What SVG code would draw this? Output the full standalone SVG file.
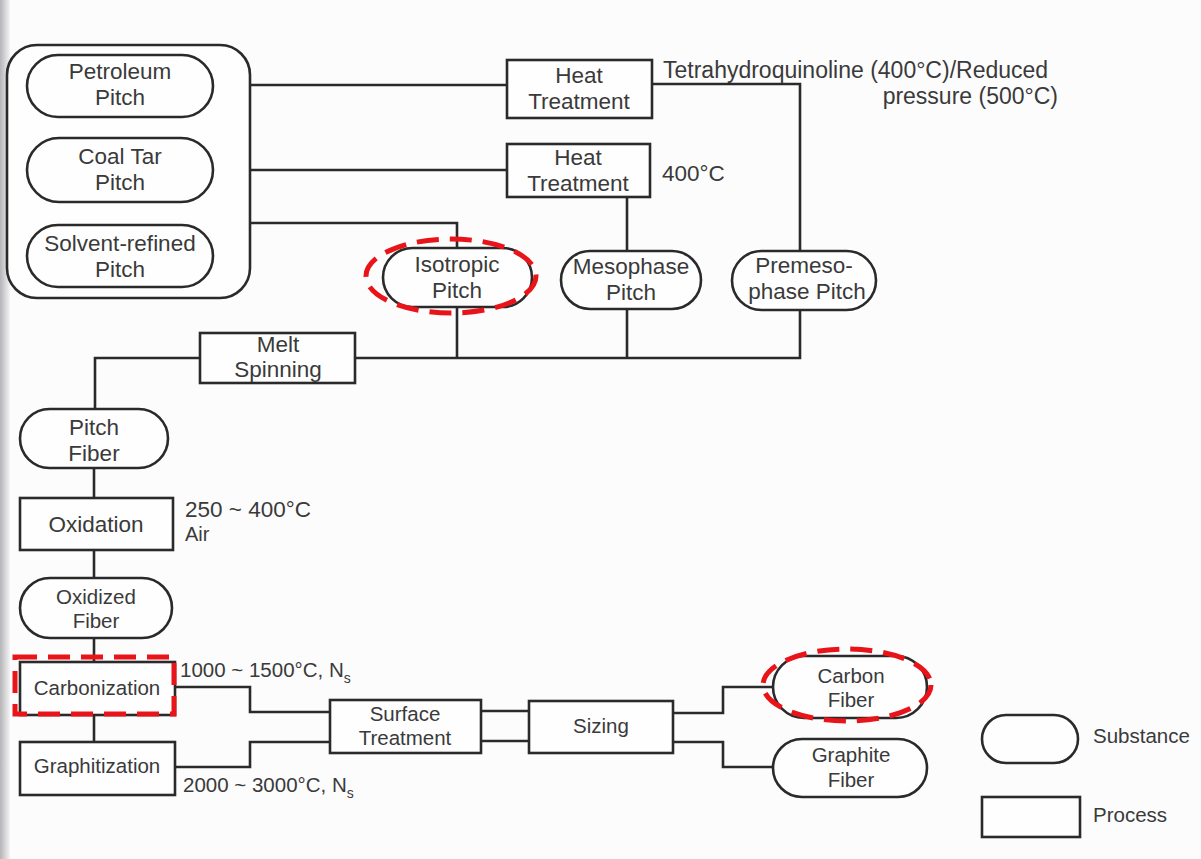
<svg xmlns="http://www.w3.org/2000/svg" width="1201" height="859" viewBox="0 0 1201 859">
<defs>
<linearGradient id="bind" x1="0" y1="0" x2="1" y2="0">
<stop offset="0" stop-color="#b5b5b8"/>
<stop offset="1" stop-color="#f4f4f6"/>
</linearGradient>
<style>
.n{fill:#fefefe;stroke:#2a2a2a;stroke-width:2.6}
.c{fill:none;stroke:#2a2a2a;stroke-width:2.6;stroke-linejoin:miter}
.t{font-family:"Liberation Sans",Arial,sans-serif;fill:#3a3a3a;text-anchor:middle}
.L{font-size:22.5px}
.S{font-size:20.5px}
.a{font-family:"Liberation Sans",Arial,sans-serif;fill:#3a3a3a}
.r{fill:none;stroke:#e8141a;stroke-width:5;stroke-dasharray:22 11}
</style>
</defs>
<rect x="0" y="0" width="1201" height="859" fill="#fcfcfc"/>
<rect x="0" y="0" width="10" height="859" fill="url(#bind)"/>

<g id="connectors">
<polyline class="c" points="250,85 507,85"/>
<polyline class="c" points="250,170 507,170"/>
<polyline class="c" points="250,223 457,223 457,248"/>
<polyline class="c" points="652,84 800,84 800,251"/>
<polyline class="c" points="627,197 627,251"/>
<polyline class="c" points="457,307 457,358"/>
<polyline class="c" points="627,309 627,358"/>
<polyline class="c" points="800,310 800,358 355,358"/>
<polyline class="c" points="200,358 95,358 95,409"/>
<polyline class="c" points="94,468 94,498"/>
<polyline class="c" points="94,550 94,578"/>
<polyline class="c" points="94,638 94,662"/>
<polyline class="c" points="94,715 94,742"/>
<polyline class="c" points="175,687 250,687 250,712 330,712"/>
<polyline class="c" points="175,767 250,767 250,742 330,742"/>
<polyline class="c" points="481,711 529,711"/>
<polyline class="c" points="481,741 529,741"/>
<polyline class="c" points="673,713 723,713 723,687 773,687"/>
<polyline class="c" points="673,742 723,742 723,767 773,767"/>
</g>

<g id="pitch-sources">
<rect class="n" x="7" y="45" width="243" height="253" rx="30" ry="30"/>
</g>
<g id="petroleum-pitch">
<rect class="n" x="27" y="55" width="186" height="62" rx="31"/>
<text class="t L" x="120" y="79">Petroleum</text>
<text class="t L" x="120" y="105">Pitch</text>
</g>
<g id="coal-tar-pitch">
<rect class="n" x="27" y="138" width="186" height="64" rx="32"/>
<text class="t L" x="120" y="164">Coal Tar</text>
<text class="t L" x="120" y="190">Pitch</text>
</g>
<g id="solvent-refined-pitch">
<rect class="n" x="27" y="225" width="186" height="62" rx="31"/>
<text class="t L" x="120" y="251">Solvent-refined</text>
<text class="t L" x="120" y="277">Pitch</text>
</g>

<g id="heat-treatment-1">
<rect class="n" x="507" y="60" width="145" height="58"/>
<text class="t L" x="579" y="83">Heat</text>
<text class="t L" x="579" y="109">Treatment</text>
</g>
<g id="heat-treatment-2">
<rect class="n" x="507" y="144" width="143" height="53"/>
<text class="t L" x="578" y="165">Heat</text>
<text class="t L" x="578" y="191">Treatment</text>
</g>
<g id="labels-top">
<text class="a" font-size="23" x="663" y="78">Tetrahydroquinoline (400°C)/Reduced</text>
<text class="a" font-size="23" x="1058" y="104" text-anchor="end">pressure (500°C)</text>
<text class="a L" x="662" y="181">400°C</text>
</g>

<g id="isotropic-pitch">
<rect class="n" x="383" y="248" width="149" height="59" rx="29.5"/>
<text class="t L" x="457" y="272">Isotropic</text>
<text class="t L" x="457" y="298">Pitch</text>
<ellipse class="r" cx="451" cy="276" rx="85" ry="37"/>
</g>
<g id="mesophase-pitch">
<rect class="n" x="561" y="251" width="140" height="58" rx="29"/>
<text class="t L" x="631" y="274">Mesophase</text>
<text class="t L" x="631" y="300">Pitch</text>
</g>
<g id="premesophase-pitch">
<rect class="n" x="732" y="251" width="144" height="59" rx="29.5"/>
<text class="t L" x="804" y="273">Premeso-</text>
<text class="t L" x="807" y="299">phase Pitch</text>
</g>

<g id="melt-spinning">
<rect class="n" x="200" y="333" width="155" height="50"/>
<text class="t L" x="278" y="352">Melt</text>
<text class="t L" x="278" y="377">Spinning</text>
</g>
<g id="pitch-fiber">
<rect class="n" x="20" y="409" width="148" height="59" rx="29.5"/>
<text class="t L" x="94" y="435">Pitch</text>
<text class="t L" x="94" y="461">Fiber</text>
</g>
<g id="oxidation">
<rect class="n" x="20" y="498" width="153" height="52"/>
<text class="t L" x="96" y="532">Oxidation</text>
<text class="a L" x="185" y="517">250  ~  400°C</text>
<text class="a" x="185" y="541" font-size="20">Air</text>
</g>
<g id="oxidized-fiber">
<rect class="n" x="20" y="578" width="152" height="60" rx="30"/>
<text class="t S" x="96" y="604">Oxidized</text>
<text class="t S" x="96" y="628">Fiber</text>
</g>
<g id="carbonization">
<rect class="n" x="20" y="662" width="155" height="53"/>
<text class="t S" x="97" y="695">Carbonization</text>
<rect class="r" x="15" y="657" width="159" height="57"/>
<text class="a S" x="180" y="677">1000  ~  1500°C, N<tspan font-size="14" dy="6">s</tspan></text>
</g>
<g id="graphitization">
<rect class="n" x="20" y="742" width="155" height="53"/>
<text class="t S" x="97" y="773">Graphitization</text>
<text class="a S" x="183" y="792">2000  ~  3000°C, N<tspan font-size="14" dy="6">s</tspan></text>
</g>
<g id="surface-treatment">
<rect class="n" x="330" y="700" width="151" height="53"/>
<text class="t S" x="405" y="721">Surface</text>
<text class="t S" x="405" y="745">Treatment</text>
</g>
<g id="sizing">
<rect class="n" x="529" y="701" width="144" height="52"/>
<text class="t S" x="601" y="733">Sizing</text>
</g>
<g id="carbon-fiber">
<rect class="n" x="773" y="656" width="154" height="62" rx="31"/>
<text class="t S" x="851" y="683">Carbon</text>
<text class="t S" x="851" y="707">Fiber</text>
<ellipse class="r" cx="847" cy="685" rx="84" ry="36"/>
</g>
<g id="graphite-fiber">
<rect class="n" x="773" y="739" width="154" height="58" rx="29"/>
<text class="t S" x="851" y="762">Graphite</text>
<text class="t S" x="851" y="787">Fiber</text>
</g>

<g id="legend">
<rect class="n" x="982" y="715" width="96" height="48" rx="24"/>
<text class="a S" x="1093" y="743">Substance</text>
<rect class="n" x="982" y="797" width="98" height="40"/>
<text class="a S" x="1093" y="822">Process</text>
</g>
</svg>
